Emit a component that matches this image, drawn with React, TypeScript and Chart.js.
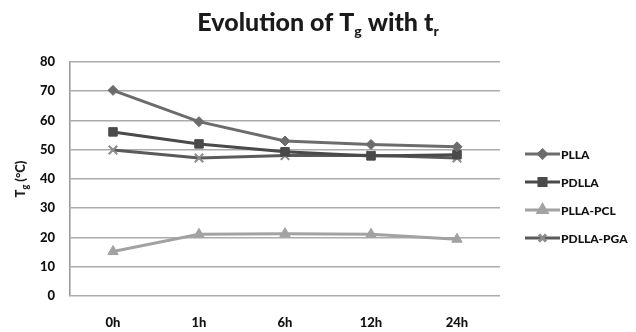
import React, { useEffect, useRef } from "react";
import { Chart, registerables } from "chart.js";
import { drawPoint } from "chart.js/helpers";

Chart.register(...registerables);

const categories = ["0h", "1h", "6h", "12h", "24h"];
const plla = [70.3, 59.6, 53.0, 51.8, 51.0];
const pdlla = [56.1, 52.0, 49.3, 47.9, 48.3];
const pllaPcl = [15.2, 21.1, 21.3, 21.1, 19.4];
const pdllaPga = [49.9, 47.2, 48.0, 48.1, 47.2];
const seriesNames = ["PLLA", "PDLLA", "PLLA-PCL", "PDLLA-PGA"];
const yTicks = [0, 10, 20, 30, 40, 50, 60, 70, 80];

const FONT = "Lato, 'Open Sans', sans-serif";

const titlePlugin = {
  id: "customTitle",
  afterDraw(chart: any) {
    const ctx = chart.ctx as CanvasRenderingContext2D;
    ctx.save();
    ctx.fillStyle = "#1a1a1a";
    ctx.textBaseline = "alphabetic";
    const big = `900 25px ${FONT}`;
    const small = `900 14px ${FONT}`;
    const parts: [string, string, number][] = [
      ["Evolution of T", big, 0],
      ["g", small, 5],
      [" with t", big, 0],
      ["r", small, 5],
    ];
    let total = 0;
    for (const [t, f] of parts) {
      ctx.font = f;
      total += ctx.measureText(t).width;
    }
    let x = chart.width / 2 - total / 2;
    const base = 31;
    for (const [t, f, dy] of parts) {
      ctx.font = f;
      ctx.textAlign = "left";
      ctx.fillText(t, x, base + dy);
      x += ctx.measureText(t).width;
    }

    // Y axis title (rotated)
    ctx.translate(23, (chart.chartArea.top + chart.chartArea.bottom) / 2);
    ctx.rotate(-Math.PI / 2);
    const yb = `900 13px ${FONT}`;
    const ys = `900 9px ${FONT}`;
    const yparts: [string, string, number][] = [
      ["T", yb, 0],
      ["g", ys, 3],
      [" (°C)", yb, 0],
    ];
    let yt = 0;
    for (const [t, f] of yparts) {
      ctx.font = f;
      yt += ctx.measureText(t).width;
    }
    let yx = -yt / 2;
    for (const [t, f, dy] of yparts) {
      ctx.font = f;
      ctx.fillText(t, yx, 2 + dy);
      yx += ctx.measureText(t).width;
    }
    ctx.restore();
  },
};

const legendPlugin = {
  id: "customLegend",
  afterDraw(chart: any) {
    const ctx = chart.ctx as CanvasRenderingContext2D;
    ctx.save();
    const x0 = chart.chartArea.right + 25;
    chart.data.datasets.forEach((ds: any, i: number) => {
      const y = 154 + i * 28;
      ctx.strokeStyle = ds.borderColor;
      ctx.lineWidth = 3;
      ctx.beginPath();
      ctx.moveTo(x0, y);
      ctx.lineTo(x0 + 35, y);
      ctx.stroke();
      ctx.fillStyle = ds.pointBackgroundColor;
      ctx.strokeStyle = ds.pointBorderColor;
      drawPoint(
        ctx,
        { pointStyle: ds.pointStyle, rotation: 0, borderWidth: ds.pointBorderWidth, radius: ds.pointRadius - 1 } as any,
        x0 + 17.5,
        y
      );
      ctx.fillStyle = "#111";
      ctx.font = `900 12px ${FONT}`;
      ctx.textAlign = "left";
      ctx.textBaseline = "middle";
      ctx.fillText(ds.label, x0 + 36, y + 1);
    });
    ctx.restore();
  },
};

export default function App() {
  const ref = useRef<HTMLCanvasElement | null>(null);
  useEffect(() => {
    document.body.style.margin = "0";
    const mk = (label: string, data: number[], line: string, fill: string, style: string, r: number, bw: number) => ({
      label,
      data,
      borderColor: line,
      backgroundColor: fill,
      pointBackgroundColor: fill,
      pointBorderColor: fill,
      pointStyle: style,
      pointRadius: r,
      pointBorderWidth: bw,
      borderWidth: 3,
      tension: 0,
    });
    const chart = new Chart(ref.current as HTMLCanvasElement, {
      type: "line",
      data: {
        labels: categories,
        datasets: [
          mk(seriesNames[0], plla, "#6c6c6c", "#6c6c6c", "rectRot", 5, 1),
          mk(seriesNames[1], pdlla, "#4a4a4a", "#4a4a4a", "rect", 6, 1),
          mk(seriesNames[2], pllaPcl, "#a2a2a2", "#a2a2a2", "triangle", 6, 1),
          {
            ...mk(seriesNames[3], pdllaPga, "#5a5a5a", "#8a8a8a", "crossRot", 6, 2),
            pointBorderColor: "#8a8a8a",
          },
        ],
      },
      options: {
        animation: false,
        responsive: false,
        maintainAspectRatio: false,
        layout: { padding: { top: 62, right: 136, left: 0, bottom: 0 } },
        plugins: { legend: { display: false }, title: { display: false }, tooltip: { enabled: false } },
        scales: {
          x: {
            offset: true,
            grid: { display: false, drawTicks: false, offset: true },
            border: { display: false },
            ticks: { color: "#111", font: { family: FONT, size: 13, weight: "900" }, padding: 19 },
            afterFit: (s: any) => {
              s.height = 36;
            },
          },
          y: {
            min: 0,
            max: 80,
            afterBuildTicks: (s: any) => {
              s.ticks = yTicks.map((v) => ({ value: v }));
            },
            grid: { color: "#ababab", lineWidth: 1.6, drawTicks: false },
            border: { display: true, color: "#9a9a9a", width: 1.6 },
            ticks: { color: "#111", font: { family: FONT, size: 13, weight: "900" }, padding: 15 },
            afterFit: (s: any) => {
              s.width = 70;
            },
          },
        },
      },
      plugins: [titlePlugin, legendPlugin],
    } as any);
    return () => chart.destroy();
  }, []);
  return (
    <div style={{ position: "absolute", left: 0, top: 0, width: 636, height: 332, background: "#fff" }}>
      <canvas ref={ref} width={636} height={332} style={{ display: "block" }} />
    </div>
  );
}
